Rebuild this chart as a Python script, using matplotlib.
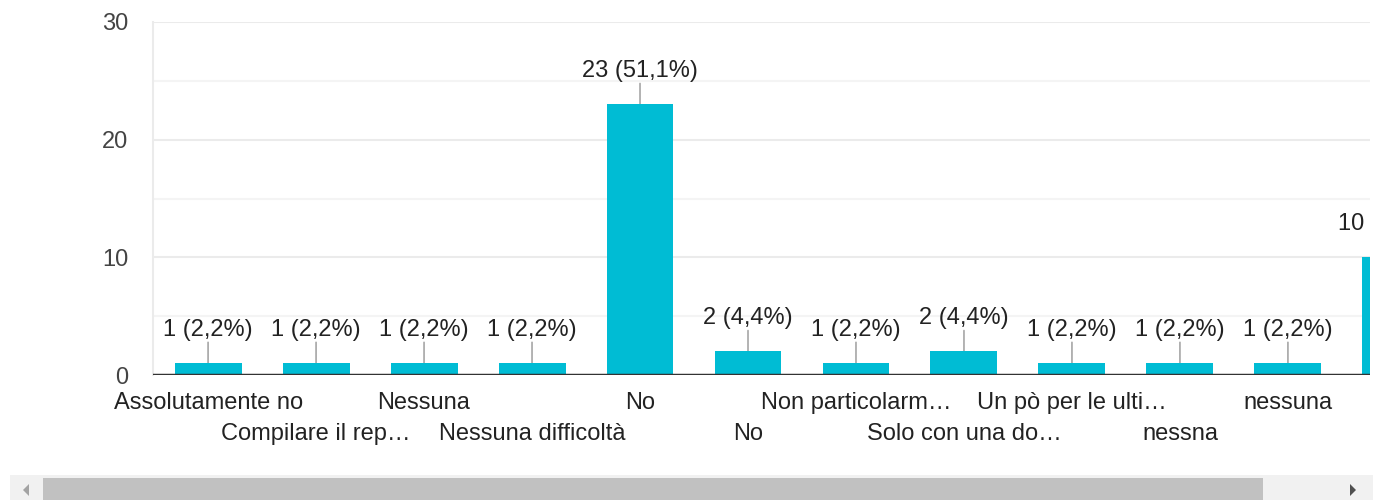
import matplotlib.pyplot as plt
from matplotlib.patches import Rectangle, Polygon

plt.rcParams['font.family'] = ['Liberation Sans', 'DejaVu Sans']

# answers (the last one scrolls out of view)
categories = ["Assolutamente no", "Compilare il rep…", "Nessuna", "Nessuna difficoltà",
              "No", "No", "Non particolarm…", "Solo con una do…",
              "Un pò per le ulti…", "nessna", "nessuna", ""]
counts = [1, 1, 1, 1, 23, 2, 1, 2, 1, 1, 1, 10]
y_ticks = [0, 10, 20, 30]

total = sum(counts)
bar_color = "#00bcd4"

fig = plt.figure(figsize=(13.73, 5), dpi=100)
ax = fig.add_axes([153 / 1373, 0.25, (1370 - 153) / 1373, (375 - 22) / 500])

x = list(range(len(categories)))
ax.bar(x, counts, width=0.62, color=bar_color, zorder=3)

ax.set_xlim(-0.51, 10.76)
ax.set_ylim(0, 30)

# gridlines: major every 10, lighter every 5
for v in range(5, 31, 5):
    ax.axhline(v, color="#ebebeb" if v % 10 == 0 else "#f4f4f4", lw=1.5, zorder=1)
ax.axhline(0, color="#333333", lw=2.5, zorder=4)

for s in ["top", "right", "bottom"]:
    ax.spines[s].set_visible(False)
ax.spines["left"].set_color("#ebebeb")
ax.spines["left"].set_linewidth(1.5)

ax.set_yticks(y_ticks)
ax.set_yticklabels([str(t) for t in y_ticks], fontsize=17, color="#444444")
ax.tick_params(axis="y", length=0, pad=18)
ax.set_xticks([])

# value labels with leader lines
for i, c in enumerate(counts):
    pct = f"{100 * c / total:.1f}".replace(".", ",")
    ax.annotate("", xy=(i, c), xytext=(0, 21), textcoords="offset pixels",
                arrowprops=dict(arrowstyle="-", color="#9e9e9e", lw=1.1,
                                shrinkA=0, shrinkB=0), zorder=2)
    ax.annotate(f"{c} ({pct}%)", xy=(i, c), xytext=(0, 33), textcoords="offset pixels",
                ha="center", va="center", fontsize=17, color="#222222",
                annotation_clip=False, clip_on=True)

# category labels, staggered in two rows
for i, lab in enumerate(categories):
    dy = -28 if i % 2 == 0 else -59
    ax.annotate(lab, xy=(i, 0), xytext=(0, dy), textcoords="offset pixels",
                ha="center", va="center", fontsize=17, color="#222222",
                annotation_clip=False)

# horizontal scrollbar
W, H = 1373, 500
def fx(px):
    return px / W
def fy(py):
    return 1 - py / H
fig.patches.append(Rectangle((fx(10), fy(500)), fx(1363), 25 / H, transform=fig.transFigure,
                             facecolor="#f1f1f1", edgecolor="none"))
fig.patches.append(Rectangle((fx(43), fy(500)), fx(1263 - 43), 22 / H, transform=fig.transFigure,
                             facecolor="#c1c1c1", edgecolor="none"))
fig.patches.append(Polygon([(fx(29), fy(484)), (fx(29), fy(496)), (fx(23), fy(490))],
                           closed=True, transform=fig.transFigure,
                           facecolor="#a3a3a3", edgecolor="none"))
fig.patches.append(Polygon([(fx(1350), fy(484)), (fx(1350), fy(496)), (fx(1356), fy(490))],
                           closed=True, transform=fig.transFigure,
                           facecolor="#505050", edgecolor="none"))

fig.savefig("out.png", dpi=100, facecolor="white")
